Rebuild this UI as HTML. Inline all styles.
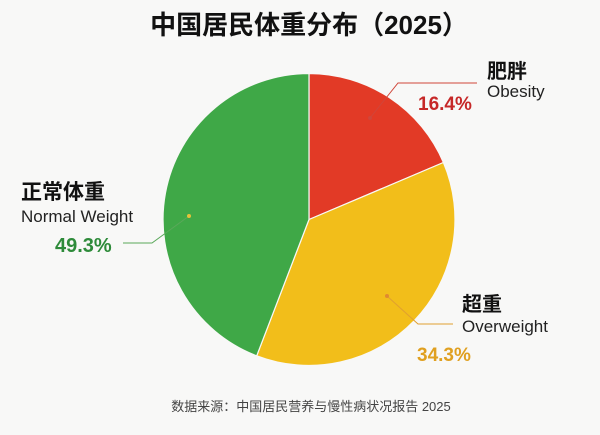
<!DOCTYPE html>
<html><head><meta charset="utf-8"><style>
html,body{margin:0;padding:0;background:#f8f8f7;}
svg{display:block;}
text{font-family:"Liberation Sans","Noto Sans CJK SC",sans-serif;}
</style></head><body>
<svg width="600" height="435" viewBox="0 0 600 435" xmlns="http://www.w3.org/2000/svg">
<rect width="600" height="435" fill="#f8f8f7"/>
<text x="309" y="34" text-anchor="middle" font-size="26" font-weight="bold" fill="#111">中国居民体重分布（2025）</text>
<g stroke="#f8f8f7" stroke-width="1.2">
<path d="M309,219.5 L309,73.5 A146,146 0 0 1 443.4,162.5 Z" fill="#e23a26"/>
<path d="M309,219.5 L443.4,162.5 A146,146 0 0 1 256.7,355.8 Z" fill="#f2be1a"/>
<path d="M309,219.5 L256.7,355.8 A146,146 0 0 1 309,73.5 Z" fill="#3fa847"/>
</g>
<polyline points="370,118 398,83 477,83" fill="none" stroke="#d0463a" stroke-width="1"/>
<circle cx="370" cy="118" r="2" fill="#d0463a"/>
<polyline points="189,216 152,243 123,243" fill="none" stroke="#5aa85a" stroke-width="1"/>
<circle cx="189" cy="216" r="2" fill="#e6c23a"/>
<polyline points="387,296 418,324 453,324" fill="none" stroke="#e0a030" stroke-width="1"/>
<circle cx="387" cy="296" r="2" fill="#e08a30"/>
<text x="487" y="78" font-size="20" font-weight="bold" fill="#111">肥胖</text>
<text x="487" y="97" font-size="17" fill="#222">Obesity</text>
<text x="418" y="110" font-size="19" font-weight="bold" fill="#c62828">16.4%</text>
<text x="21" y="199" font-size="21" font-weight="bold" fill="#111">正常体重</text>
<text x="21" y="222" font-size="17" fill="#222">Normal Weight</text>
<text x="55" y="252" font-size="20" font-weight="bold" fill="#2e8b3a">49.3%</text>
<text x="462" y="311" font-size="20" font-weight="bold" fill="#111">超重</text>
<text x="462" y="332" font-size="17" fill="#222">Overweight</text>
<text x="417" y="361" font-size="19" font-weight="bold" fill="#e0a020">34.3%</text>
<text x="311" y="411" text-anchor="middle" font-size="13" fill="#444">数据来源：中国居民营养与慢性病状况报告 2025</text>
</svg>
</body></html>
